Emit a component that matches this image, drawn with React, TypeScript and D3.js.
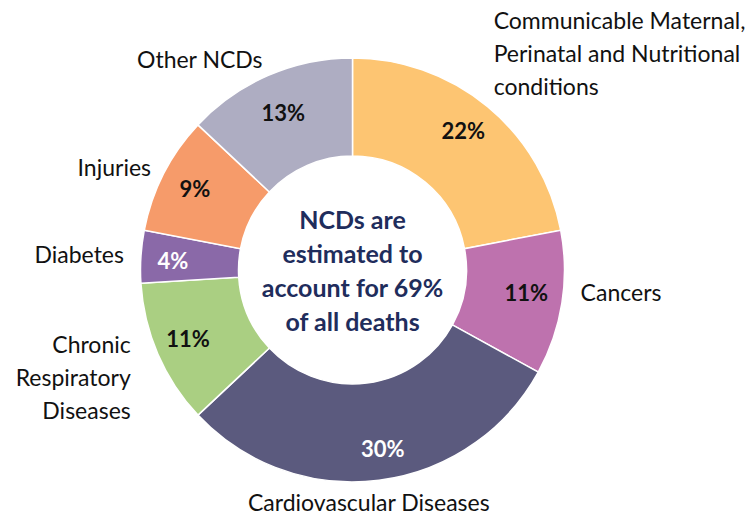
import React from "react";
import * as d3 from "d3";

const categories = [
  "Communicable Maternal, Perinatal and Nutritional conditions",
  "Cancers",
  "Cardiovascular Diseases",
  "Chronic Respiratory Diseases",
  "Diabetes",
  "Injuries",
  "Other NCDs",
];
const labelLines = [
  ["Communicable Maternal,", "Perinatal and Nutritional", "conditions"],
  ["Cancers"],
  ["Cardiovascular Diseases"],
  ["Chronic", "Respiratory", "Diseases"],
  ["Diabetes"],
  ["Injuries"],
  ["Other NCDs"],
];
const values = [22, 11, 30, 11, 4, 9, 13];
const colors = ["#FDC572", "#BE72AE", "#5B5A7E", "#AACF82", "#8A69A8", "#F69B6A", "#AEADC2"];
const pctColors = ["#111", "#111", "#fff", "#111", "#fff", "#111", "#111"];
const centerLines = ["NCDs are", "estimated to", "account for 69%", "of all deaths"];

// layout nudges (pixels) for label placement, Excel-like
const labelNudge = [[-8, -4], [-3, -15], [-13, 0], [-7, 14], [5, -1], [7, 3], [3, 4]];
const pctNudge = [[-2, -3], [-1, -5], [8, 3], [-2, -2], [-3, 2], [0, -1], [1, 5]];

const W = 747;
const H = 515;
const cx = 352.5;
const cy = 270;
const outerR = 212;
const innerR = 114;
const pctR = 177;
const labelR = 234;
const lineH = 33;
const FONT = "Lato, 'Noto Sans', sans-serif";

export default function App() {
  const pie = d3.pie<number>().value((d) => d).sort(null);
  const arcs = pie(values);
  const arc = d3.arc<d3.PieArcDatum<number>>().innerRadius(innerR).outerRadius(outerR);

  return (
    <svg width={W} height={H} style={{ position: "absolute", left: 0, top: 0 }} fontFamily={FONT}>
      <rect width={W} height={H} fill="#fff" />
      <g transform={`translate(${cx},${cy})`}>
        {arcs.map((a, i) => (
          <path key={categories[i]} d={arc(a) || ""} fill={colors[i]} stroke="#fff" strokeWidth={1.5} />
        ))}
        {arcs.map((a, i) => {
          const m = (a.startAngle + a.endAngle) / 2;
          const x = Math.sin(m) * pctR + pctNudge[i][0];
          const y = -Math.cos(m) * pctR + pctNudge[i][1];
          return (
            <text key={"p" + i} x={x} y={y} textAnchor="middle" dominantBaseline="central"
              fontSize={22} fontWeight={700} fill={pctColors[i]}>
              {values[i]}%
            </text>
          );
        })}
        {arcs.map((a, i) => {
          const m = (a.startAngle + a.endAngle) / 2;
          const s = Math.sin(m);
          const c = Math.cos(m);
          const x = s * labelR + labelNudge[i][0];
          const y = -c * labelR + labelNudge[i][1];
          const anchor = s > 0.3 ? "start" : s < -0.3 ? "end" : "middle";
          const lines = labelLines[i];
          const n = lines.length;
          let y0: number;
          if (c > 0.5 && n > 1) y0 = y - (n - 1) * lineH;
          else y0 = y - ((n - 1) * lineH) / 2;
          return (
            <text key={"l" + i} textAnchor={anchor} fontSize={23} fill="#111" dominantBaseline="central">
              {lines.map((ln, j) => (
                <tspan key={j} x={x} y={y0 + j * lineH}>{ln}</tspan>
              ))}
            </text>
          );
        })}
        <text textAnchor="middle" fontSize={25} fontWeight={700} fill="#1F2D5C" dominantBaseline="central">
          {centerLines.map((ln, j) => (
            <tspan key={j} x={0} y={(j - (centerLines.length - 1) / 2) * 34}>{ln}</tspan>
          ))}
        </text>
      </g>
    </svg>
  );
}
